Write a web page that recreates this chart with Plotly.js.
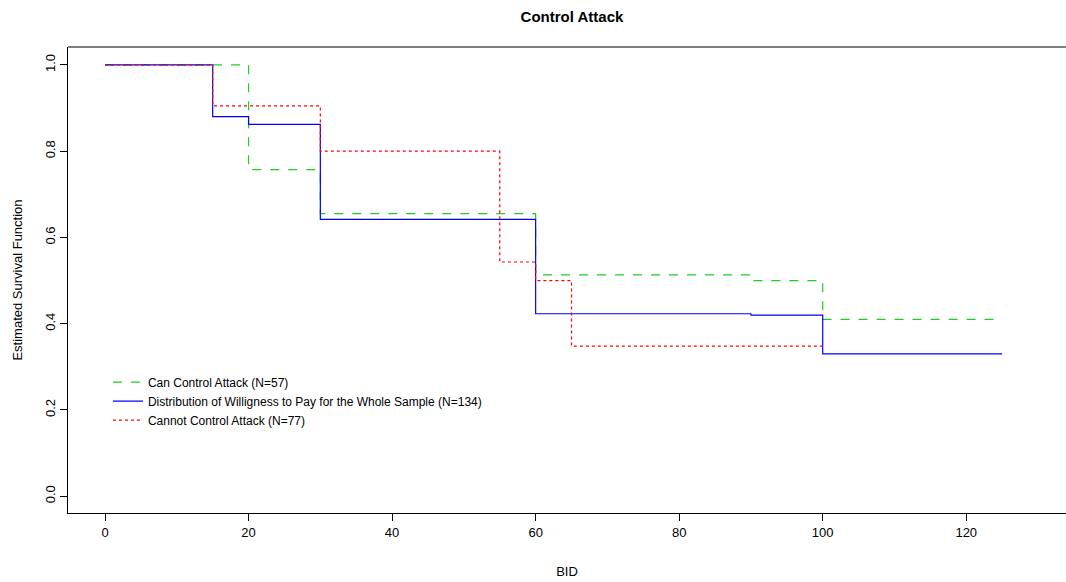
<!DOCTYPE html>
<html>
<head>
<meta charset="utf-8">
<script src="https://cdn.plot.ly/plotly-3.0.1.min.js"></script>
<style>html,body{margin:0;padding:0;overflow:hidden;background:#fff;}</style>
</head>
<body>
<div id="chart" style="width:1066px;height:582px;"></div>
<script>
const canBid = [0, 20, 30, 60, 90, 100, 125];
const canSurv = [1.0, 0.757, 0.655, 0.513, 0.500, 0.410, 0.410];
const wholeBid = [0, 15, 20, 30, 60, 90, 100, 125];
const wholeSurv = [1.0, 0.880, 0.862, 0.642, 0.423, 0.420, 0.330, 0.330];
const cannotBid = [0, 15, 30, 55, 60, 65, 100];
const cannotSurv = [1.0, 0.905, 0.800, 0.543, 0.500, 0.348, 0.348];
const names = ["Can Control Attack (N=57)", "Distribution of Willigness to Pay for the Whole Sample (N=134)", "Cannot Control Attack (N=77)"];
const xTicks = [0, 20, 40, 60, 80, 100, 120];
const yTicks = [0.0, 0.2, 0.4, 0.6, 0.8, 1.0];

const font = "Liberation Sans, Arial, sans-serif";
const traces = [
  {x: canBid, y: canSurv, name: names[0], mode: "lines", line: {shape: "hv", color: "#22cc22", width: 1.2, dash: "dash"}},
  {x: wholeBid, y: wholeSurv, name: names[1], mode: "lines", line: {shape: "hv", color: "#0000ff", width: 1.2}},
  {x: cannotBid, y: cannotSurv, name: names[2], mode: "lines", line: {shape: "hv", color: "#ff0000", width: 1.2, dash: "dot"}}
];
const layout = {
  width: 1066, height: 582,
  margin: {l: 68, r: 0, t: 47, b: 69},
  paper_bgcolor: "#fff", plot_bgcolor: "#fff",
  font: {family: font, size: 12, color: "#000"},
  title: {text: "<b>Control Attack</b>", font: {family: font, size: 15, color: "#000"}, xref: "paper", x: 0.505, xanchor: "center", y: 0.972, yanchor: "middle"},
  showlegend: true,
  legend: {x: 0.04, y: 0.312, xanchor: "left", yanchor: "top", bgcolor: "rgba(0,0,0,0)", font: {family: font, size: 12, color: "#000"}, tracegroupgap: 0, itemwidth: 30},
  xaxis: {
    range: [-5.16, 133.9], tickvals: xTicks, ticktext: xTicks.map(String),
    ticks: "outside", ticklen: 7, tickcolor: "#000", showgrid: false, zeroline: false,
    showline: true, linecolor: "#000", linewidth: 1, mirror: false,
    tickfont: {family: font, size: 13},
    title: {text: "BID", font: {family: font, size: 13}, standoff: 28}
  },
  yaxis: {
    range: [-0.039, 1.0415], tickvals: yTicks, ticktext: yTicks.map(v => v.toFixed(1)),
    ticks: "outside", ticklen: 7, tickcolor: "#000", showgrid: false, zeroline: false,
    showline: true, linecolor: "#000", linewidth: 1, mirror: false, tickangle: -90,
    tickfont: {family: font, size: 13},
    title: {text: "Estimated Survival Function", font: {family: font, size: 13}, standoff: 17}
  },
  shapes: [{type: "line", xref: "paper", yref: "paper", x0: 0, x1: 1, y0: 1, y1: 1, line: {color: "#000", width: 1}}]
};
Plotly.newPlot("chart", traces, layout, {displayModeBar: false, staticPlot: true});
</script>
</body>
</html>
